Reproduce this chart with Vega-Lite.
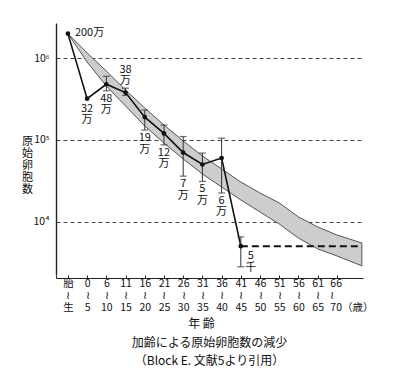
{
  "$schema": "https://vega.github.io/schema/vega-lite/v6.json",
  "width": 307,
  "height": 252,
  "autosize": "none",
  "padding": {"left": 56, "top": 23, "right": 37, "bottom": 93},
  "background": "white",
  "config": {"view": {"stroke": null}, "font": "Noto Sans CJK JP", "axis": {"labelOverlap": false}},
  "title": {
    "text": "加齢による原始卵胞数の減少",
    "subtitle": "（Block E. 文献5より引用）",
    "orient": "bottom",
    "frame": "group",
    "fontSize": 12,
    "fontWeight": "normal",
    "subtitleFontSize": 12,
    "subtitleFont": "Noto Sans CJK JP",
    "color": "#111",
    "subtitleColor": "#111",
    "offset": 9,
    "subtitlePadding": 6
  },
  "datasets": {
    "band": [
      {"age": 0, "upper": 2000000, "lower": 2000000},
      {"age": 1, "upper": 1160000, "lower": 898000},
      {"age": 2, "upper": 697000, "lower": 457000},
      {"age": 3, "upper": 408000, "lower": 260000},
      {"age": 4, "upper": 246000, "lower": 148000},
      {"age": 5, "upper": 152000, "lower": 91600},
      {"age": 6, "upper": 97000, "lower": 58400},
      {"age": 7, "upper": 63600, "lower": 38300},
      {"age": 8, "upper": 44100, "lower": 26500},
      {"age": 9, "upper": 30500, "lower": 18400},
      {"age": 10, "upper": 22400, "lower": 13100},
      {"age": 11, "upper": 16900, "lower": 9330},
      {"age": 12, "upper": 11400, "lower": 6290},
      {"age": 13, "upper": 8600, "lower": 4630},
      {"age": 14, "upper": 6860, "lower": 3800},
      {"age": 15.3, "upper": 5470, "lower": 2870}
    ],
    "obs": [
      {"age": 0, "count": 2000000, "label": "200万"},
      {"age": 1, "count": 320000, "label": "32\n万"},
      {"age": 2, "count": 480000, "lo": 400000, "hi": 600000, "label": "48\n万"},
      {"age": 3, "count": 380000, "lo": 350000, "hi": 430000, "label": "38\n万"},
      {"age": 4, "count": 190000, "lo": 132000, "hi": 232000, "label": "19\n万"},
      {"age": 5, "count": 120000, "lo": 87000, "hi": 152000, "label": "12\n万"},
      {"age": 6, "count": 70000, "lo": 36000, "hi": 110000, "label": "7\n万"},
      {"age": 7, "count": 50000, "lo": 31000, "hi": 69000, "label": "5\n万"},
      {"age": 8, "count": 60000, "lo": 22400, "hi": 105000, "label": "6\n万"},
      {"age": 9, "count": 5000, "lo": 2800, "hi": 6500, "label": "5\n千"}
    ],
    "tail": [
      {"age": 9, "count": 5000},
      {"age": 15.3, "count": 5000}
    ]
  },
  "layer": [
    {
      "data": {"name": "band"},
      "mark": {"type": "area", "fill": "#cdcdcd", "stroke": "#444", "strokeWidth": 0.9},
      "encoding": {
        "x": {
          "field": "age", "type": "quantitative",
          "scale": {"domain": [-0.62, 15.36], "nice": false, "zero": false},
          "axis": {
            "values": [-0.62, 0, 1, 2, 3, 4, 5, 6, 7, 8, 9, 10, 11, 12, 13, 14],
            "tickCount": 40,
            "labelExpr": "datum.value < -0.1 ? '' : split(['胎|≀|生','0|≀|5','6|≀|10','11|≀|15','16|≀|20','21|≀|25','26|≀|30','31|≀|35','36|≀|40','41|≀|45','46|≀|50','51|≀|55','56|≀|60','61|≀|65','66|≀|70（歳）'][round(datum.value)], '|')",
            "labelAlign": {"condition": {"test": "datum.value == 14", "value": "left"}, "value": "center"},
            "labelOffset": {"condition": {"test": "datum.value == 14", "value": -7}, "value": 0},
            "labelOverlap": {"expr": "false"},
            "labelFlush": false,
            "labelFontSize": 10.5,
            "labelLineHeight": 12,
            "labelColor": "#111",
            "labelPadding": 3,
            "offset": 3,
            "tickSize": -3,
            "tickColor": "#222",
            "domainColor": "#222",
            "domainWidth": 1.2,
            "grid": false,
            "title": "年 齢",
            "titleFontSize": 12,
            "titleFontWeight": "normal",
            "titleColor": "#111",
            "titleX": 145,
            "titleY": 45,
            "titleBaseline": "middle"
          }
        },
        "y": {
          "field": "upper", "type": "quantitative",
          "scale": {"type": "log", "domain": [2218, 2698000], "nice": false, "zero": false},
          "axis": {
            "values": [10000, 100000, 1000000],
            "labelExpr": "'10' + (datum.value == 1000000 ? '⁶' : datum.value == 100000 ? '⁵' : '⁴')",
            "labelFontSize": 10.5,
            "labelColor": "#111",
            "labelPadding": 7,
            "ticks": false,
            "domainColor": "#222",
            "domainWidth": 1.4,
            "grid": true,
            "gridDash": [4, 3],
            "gridColor": "#333",
            "gridWidth": 0.9,
            "title": ["原", "始", "卵", "胞", "数"],
            "titleAngle": 0,
            "titleAlign": "center",
            "titleBaseline": "middle",
            "titleX": -29,
            "titleY": 118,
            "titleLineHeight": 12,
            "titleFontSize": 11,
            "titleFontWeight": "normal",
            "titleColor": "#111"
          }
        },
        "y2": {"field": "lower"}
      }
    },
    {
      "data": {"name": "obs"},
      "mark": {"type": "line", "color": "#111", "strokeWidth": 1.6},
      "encoding": {
        "x": {"field": "age", "type": "quantitative"},
        "y": {"field": "count", "type": "quantitative"}
      }
    },
    {
      "data": {"name": "tail"},
      "mark": {"type": "line", "color": "#111", "strokeWidth": 2, "strokeDash": [7, 4]},
      "encoding": {
        "x": {"field": "age", "type": "quantitative"},
        "y": {"field": "count", "type": "quantitative"}
      }
    },
    {
      "data": {"name": "obs"},
      "transform": [{"filter": "isValid(datum.hi)"}],
      "mark": {"type": "rule", "color": "#333", "strokeWidth": 1},
      "encoding": {
        "x": {"field": "age", "type": "quantitative"},
        "y": {"field": "lo", "type": "quantitative"},
        "y2": {"field": "hi"}
      }
    },
    {
      "data": {"name": "obs"},
      "transform": [{"filter": "isValid(datum.hi)"}],
      "mark": {"type": "tick", "orient": "horizontal", "color": "#333", "size": 7, "thickness": 1.2},
      "encoding": {
        "x": {"field": "age", "type": "quantitative"},
        "y": {"field": "hi", "type": "quantitative"}
      }
    },
    {
      "data": {"name": "obs"},
      "transform": [{"filter": "isValid(datum.lo)"}],
      "mark": {"type": "tick", "orient": "horizontal", "color": "#333", "size": 7, "thickness": 1.2},
      "encoding": {
        "x": {"field": "age", "type": "quantitative"},
        "y": {"field": "lo", "type": "quantitative"}
      }
    },
    {
      "data": {"name": "obs"},
      "mark": {"type": "circle", "color": "#111", "opacity": 1, "size": 22},
      "encoding": {
        "x": {"field": "age", "type": "quantitative"},
        "y": {"field": "count", "type": "quantitative"}
      }
    },
    {
      "data": {"name": "obs"},
      "transform": [{"filter": "indexof([2,4,5,6,7,8], datum.age) >= 0"}],
      "mark": {"type": "text", "lineBreak": "\n", "baseline": "top", "align": "center", "dy": 2, "fontSize": 11, "lineHeight": 11.5, "color": "#111"},
      "encoding": {
        "x": {"field": "age", "type": "quantitative"},
        "y": {"field": "lo", "type": "quantitative"},
        "text": {"field": "label"}
      }
    },
    {
      "data": {"name": "obs"},
      "transform": [{"filter": "datum.age == 1"}],
      "mark": {"type": "text", "lineBreak": "\n", "baseline": "top", "align": "center", "dy": 4, "fontSize": 11, "lineHeight": 11.5, "color": "#111"},
      "encoding": {
        "x": {"field": "age", "type": "quantitative"},
        "y": {"field": "count", "type": "quantitative"},
        "text": {"field": "label"}
      }
    },
    {
      "data": {"name": "obs"},
      "transform": [{"filter": "datum.age == 3"}],
      "mark": {"type": "text", "lineBreak": "\n", "baseline": "top", "align": "center", "dy": -29, "fontSize": 11, "lineHeight": 11.5, "color": "#111"},
      "encoding": {
        "x": {"field": "age", "type": "quantitative"},
        "y": {"field": "count", "type": "quantitative"},
        "text": {"field": "label"}
      }
    },
    {
      "data": {"name": "obs"},
      "transform": [{"filter": "datum.age == 0"}],
      "mark": {"type": "text", "baseline": "middle", "align": "left", "dx": 7, "dy": -1, "fontSize": 11, "color": "#111"},
      "encoding": {
        "x": {"field": "age", "type": "quantitative"},
        "y": {"field": "count", "type": "quantitative"},
        "text": {"field": "label"}
      }
    },
    {
      "data": {"name": "obs"},
      "transform": [{"filter": "datum.age == 9"}],
      "mark": {"type": "text", "lineBreak": "\n", "baseline": "top", "align": "center", "dx": 10, "dy": 4, "fontSize": 11, "lineHeight": 11.5, "color": "#111"},
      "encoding": {
        "x": {"field": "age", "type": "quantitative"},
        "y": {"field": "count", "type": "quantitative"},
        "text": {"field": "label"}
      }
    }
  ]
}
